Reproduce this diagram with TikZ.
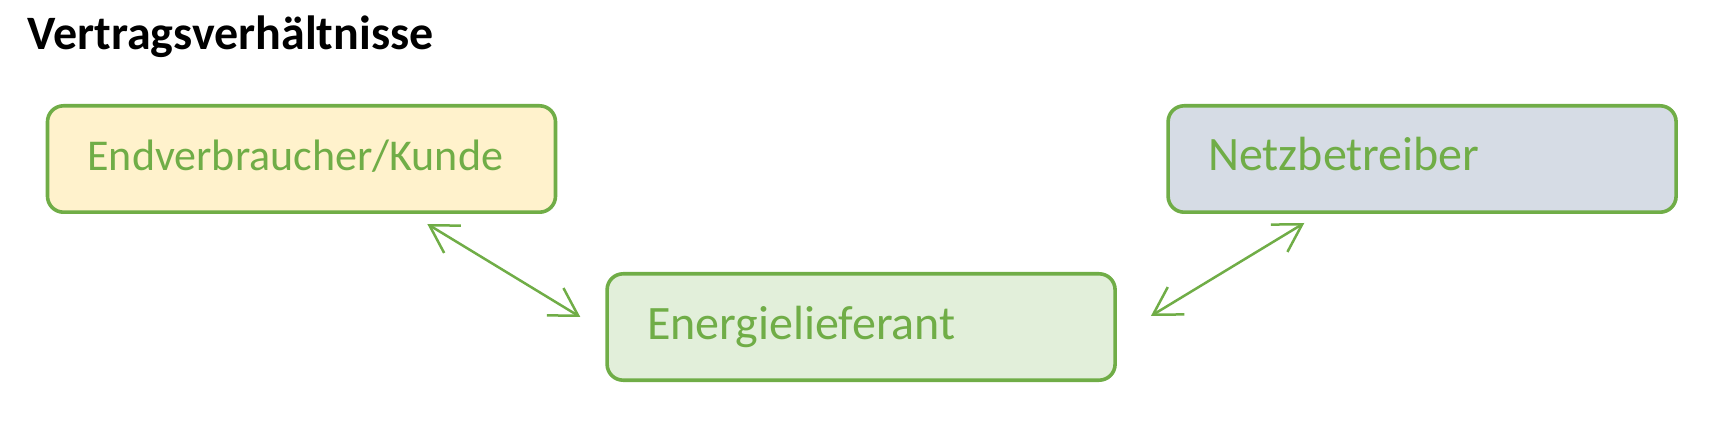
\documentclass[tikz,border=0pt]{standalone}
\usepackage{fontspec}
\setmainfont{Carlito}
\usetikzlibrary{arrows.meta, positioning}
\definecolor{officegreen}{HTML}{70AD47}
\definecolor{kundefill}{HTML}{FFF2CC}
\definecolor{lieferantfill}{HTML}{E2EFDA}
\definecolor{netzfill}{HTML}{D6DCE5}
\begin{document}
\begin{tikzpicture}[>={Straight Barb[length=13.5pt, width=16pt]}, font=\fontsize{24}{28}\selectfont,
    party/.style={draw=officegreen, line width=1.8pt, rounded corners=8pt, text=officegreen,
        minimum width=254pt, minimum height=53.2pt, text width=214pt, inner xsep=20pt, inner ysep=0pt,
        align=left, text height=18pt, text depth=6pt},
    contract/.style={<->, draw=officegreen, line width=1.25pt}]

    \useasboundingbox (0,0) rectangle (862pt,-211pt);

    \node[anchor=base west, inner sep=0pt, font=\fontsize{24}{28}\selectfont\bfseries] (title) at (13.5pt,-25pt) {Vertragsverhältnisse};

    \node[party, fill=kundefill, font=\fontsize{22}{26}\selectfont] (kunde-box) at (150.75pt,-79.5pt) {Endverbraucher/Kunde};
    \node[party, fill=lieferantfill, below right = 29pt and 24pt of kunde-box] (lieferant-box) {Energielieferant};
    \node[party, fill=netzfill, right = 304.5pt of kunde-box] (netz-box) {Netzbetreiber};

    \coordinate[below left = 5pt and 65pt of kunde-box.south east] (kunde-tip);
    \coordinate[above left = 5pt and 12.5pt of lieferant-box.west] (lieferant-tip-west);
    \coordinate[above right = 5.5pt and 17pt of lieferant-box.east] (lieferant-tip-east);
    \coordinate[below right = 4.5pt and 69pt of netz-box.south west] (netz-tip);

    \draw[contract] (kunde-tip) -- (lieferant-tip-west);
    \draw[contract] (lieferant-tip-east) -- (netz-tip);

\end{tikzpicture}
\end{document}
